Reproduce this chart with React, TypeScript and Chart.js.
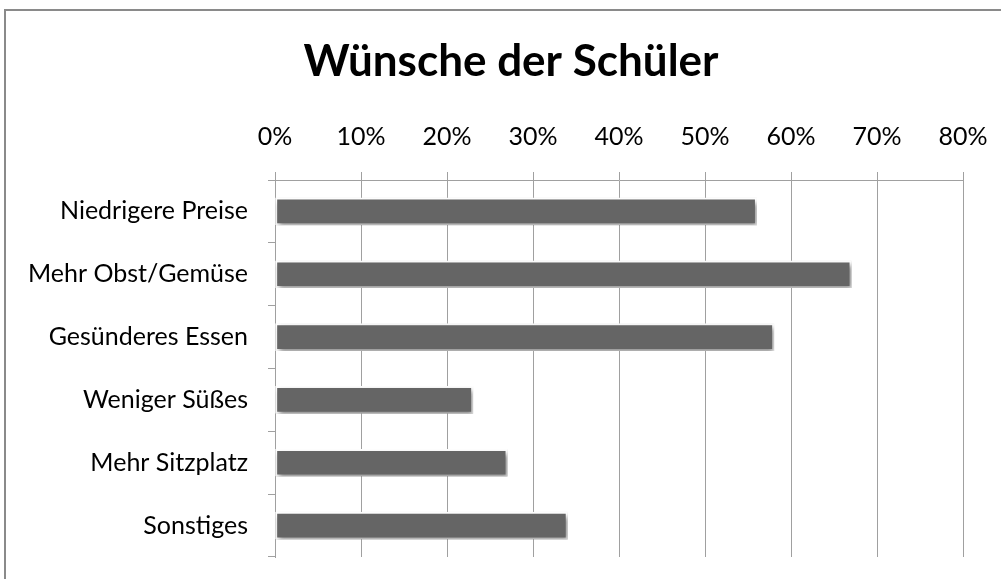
import React, { useEffect, useRef } from "react";
import { Chart, registerables } from "chart.js";

Chart.register(...registerables);

const titleText = "Wünsche der Schüler";
const categories = [
  "Niedrigere Preise",
  "Mehr Obst/Gemüse",
  "Gesünderes Essen",
  "Weniger Süßes",
  "Mehr Sitzplatz",
  "Sonstiges",
];
const values = [56, 67, 58, 23, 27, 34];
const axisMin = 0;
const axisMax = 80;
const axisStep = 10;

const FONT = "Lato, 'Open Sans', sans-serif";
const GRID = "#a0a0a0";

const framePlugin = {
  id: "frame",
  beforeDraw(chart: any) {
    const ctx = chart.ctx;
    ctx.save();
    ctx.fillStyle = "#ffffff";
    ctx.fillRect(0, 0, chart.width, chart.height);
    ctx.strokeStyle = "#8a8a8a";
    ctx.lineWidth = 2;
    ctx.beginPath();
    ctx.moveTo(5, chart.height);
    ctx.lineTo(5, 10);
    ctx.lineTo(chart.width, 10);
    ctx.stroke();
    ctx.fillStyle = "#000000";
    ctx.font = `bold 44px ${FONT}`;
    ctx.textAlign = "center";
    ctx.textBaseline = "middle";
    ctx.fillText(titleText, 511, 62);
    ctx.restore();
  },
  beforeDatasetsDraw(chart: any) {
    const ctx = chart.ctx;
    ctx.save();
    ctx.shadowColor = "rgba(0,0,0,0.45)";
    ctx.shadowBlur = 5;
    ctx.shadowOffsetX = 2;
    ctx.shadowOffsetY = 3;
  },
  afterDatasetsDraw(chart: any) {
    chart.ctx.restore();
  },
};

export default function App() {
  const ref = useRef<HTMLCanvasElement | null>(null);
  useEffect(() => {
    if (!ref.current) return;
    const chart = new Chart(ref.current, {
      type: "bar",
      data: {
        labels: categories,
        datasets: [
          {
            data: values,
            backgroundColor: "#656565",
            borderColor: "#ffffff",
            borderWidth: 2,
            borderSkipped: false,
            barThickness: 27,
          },
        ],
      },
      options: {
        indexAxis: "y",
        responsive: false,
        animation: false,
        layout: { padding: { top: 0, left: 0, right: 38, bottom: 22 } },
        plugins: {
          legend: { display: false },
          title: { display: false },
          tooltip: { enabled: false },
        },
        scales: {
          x: {
            position: "top",
            min: axisMin,
            max: axisMax,
            afterFit(scale: any) {
              scale.height = 180;
              scale.paddingLeft = 0;
              scale.paddingRight = 0;
            },
            ticks: {
              stepSize: axisStep,
              color: "#000000",
              font: { family: FONT, size: 25 },
              padding: 20,
              maxRotation: 0,
              callback: (v: any) => `${v}%`,
            },
            grid: {
              color: GRID,
              lineWidth: 1,
              drawTicks: true,
              tickLength: 8,
            },
            border: { display: true, color: GRID, width: 1 },
          },
          y: {
            afterFit(scale: any) {
              scale.width = 275;
              scale.paddingTop = 0;
              scale.paddingBottom = 0;
            },
            ticks: {
              color: "#000000",
              font: { family: FONT, size: 25 },
              padding: 20,
            },
            grid: {
              drawOnChartArea: false,
              drawTicks: true,
              tickLength: 7,
              color: GRID,
              offset: true,
            },
            border: { display: true, color: GRID, width: 1 },
          },
        },
      },
      plugins: [framePlugin],
    });
    return () => chart.destroy();
  }, []);
  return (
    <div style={{ position: "absolute", left: 0, top: 0, width: 1001, height: 579 }}>
      <canvas ref={ref} width={1001} height={579} />
    </div>
  );
}
